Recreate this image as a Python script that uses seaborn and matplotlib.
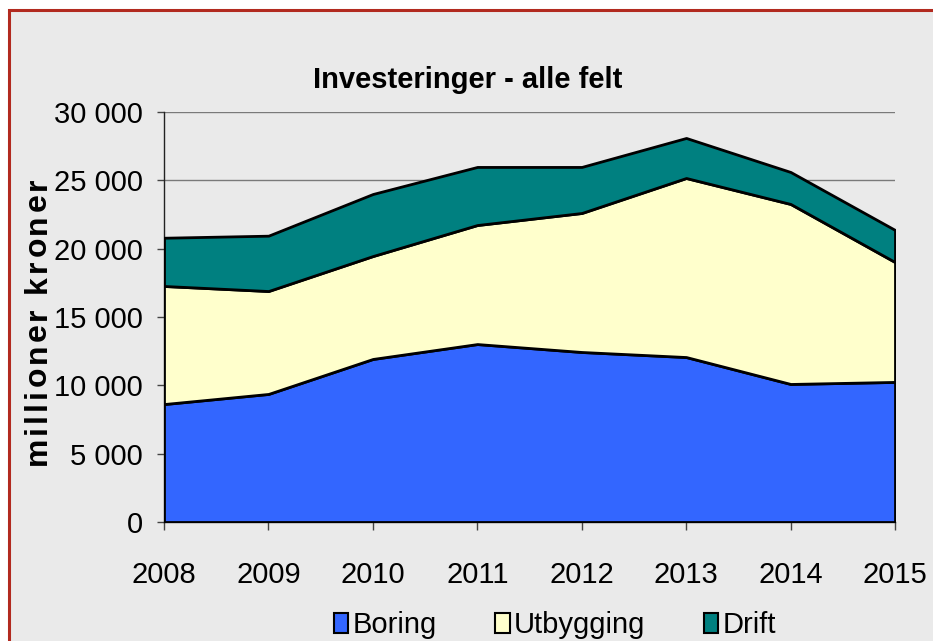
import numpy as np
import pandas as pd
import matplotlib
matplotlib.use("Agg")
import matplotlib.pyplot as plt
from matplotlib import font_manager
from matplotlib.font_manager import FontProperties
from matplotlib.patches import Rectangle, Patch
from matplotlib.ticker import FuncFormatter
import seaborn as sns

# -----------------------
# data (millioner kroner)
# -----------------------
years = [2008, 2009, 2010, 2011, 2012, 2013, 2014, 2015]
boring = [8630, 9370, 11930, 13020, 12440, 12070, 10100, 10250]
utbygging = [8640, 7530, 7530, 8710, 10170, 13100, 13170, 8770]
drift = [3530, 4050, 4540, 4250, 3370, 2930, 2340, 2350]

series_names = ["Boring", "Utbygging", "Drift"]
series_colors = ["#3366FF", "#FFFFCC", "#008080"]
title = "Investeringer - alle felt"
ylabel = "millioner kroner"

df = pd.DataFrame({"year": years, "Boring": boring,
                   "Utbygging": utbygging, "Drift": drift})

bg = "#EAEAEA"
sns.set_theme(style="white", rc={"axes.facecolor": bg, "figure.facecolor": "white",
                                 "text.color": "black", "axes.labelcolor": "black",
                                 "xtick.color": "black", "ytick.color": "black"})

# narrow font if we have it, else plain Liberation Sans
installed = {f.name for f in font_manager.fontManager.ttflist}
if "Liberation Sans Narrow" in installed:
    narrow, tick_fs, title_fs = "Liberation Sans Narrow", 24, 23
else:
    narrow, tick_fs, title_fs = "Liberation Sans", 21, 21
plt.rcParams["font.family"] = [narrow, "DejaVu Sans"]

fig = plt.figure(figsize=(9.33, 6.41), dpi=100)

# grey panel with the red frame (only top / left edge visible)
frame = Rectangle((8.5 / 933, -0.2), 1.3, 1 - 10 / 641 + 0.2,
                  transform=fig.transFigure, facecolor=bg,
                  edgecolor="#B22A1F", linewidth=2.2, zorder=-10)
fig.patches.append(frame)

ax = fig.add_axes([164 / 933, (641 - 522) / 641, 731 / 933, 410 / 641])
ax.set_facecolor("none")

ax.stackplot(df["year"], df["Boring"], df["Utbygging"], df["Drift"],
             colors=series_colors, edgecolor="black", linewidth=2.0,
             zorder=3)

ax.set_xlim(years[0], years[-1])
ax.set_ylim(0, 30000)
ax.set_xticks(years)
ax.set_yticks(np.arange(0, 30001, 5000))
ax.yaxis.set_major_formatter(FuncFormatter(lambda v, p: f"{int(v):,}".replace(",", " ")))

ax.grid(axis="y", color="#7a7a7a", linewidth=1.0, zorder=0)
ax.grid(axis="x", visible=False)
for s in ["top", "right"]:
    ax.spines[s].set_visible(False)
for s in ["left", "bottom"]:
    ax.spines[s].set_color("#222222")
    ax.spines[s].set_linewidth(1.0)

ax.tick_params(axis="y", which="major", left=True, length=5, width=1,
               color="#444444", pad=10, labelsize=tick_fs, labelcolor="black")
ax.tick_params(axis="x", which="major", bottom=True, length=6, width=1,
               color="#444444", pad=22, labelsize=tick_fs, labelcolor="black")
for lab in ax.get_yticklabels() + ax.get_xticklabels():
    lab.set_fontfamily(narrow)

fig.text(468 / 933, 1 - 80 / 641, title, ha="center", va="center",
         fontsize=title_fs, fontweight="bold", family=narrow, color="black")

# y label: bold, letter-spaced, each char placed along the axis
prop = FontProperties(family="Liberation Sans", weight="bold", size=23)
renderer = fig.canvas.get_renderer()
adv = [0.0] + [renderer.get_text_width_height_descent(ylabel[:i], prop, ismath=False)[0]
               for i in range(1, len(ylabel) + 1)]
label_len = 287
gap = (label_len - adv[-1]) / (len(ylabel) - 1)
y_start = 641 - 465
for i, ch in enumerate(ylabel):
    if ch == " ":
        continue
    fig.text(46 / 933, (y_start + adv[i] + i * gap) / 641, ch, rotation=90,
             rotation_mode="anchor", ha="left", va="baseline",
             fontproperties=prop, color="black")

handles = [Patch(facecolor=c, edgecolor="black", linewidth=1.5, label=n)
           for n, c in zip(series_names, series_colors)]
fig.legend(handles=handles, loc="center", bbox_to_anchor=(555 / 933, 1 - 625 / 641),
           ncol=3, frameon=False, handlelength=0.5,
           handleheight=0.7, handletextpad=0.15, columnspacing=2.0,
           prop={"family": narrow, "size": tick_fs})

fig.savefig("out.png", dpi=100)
